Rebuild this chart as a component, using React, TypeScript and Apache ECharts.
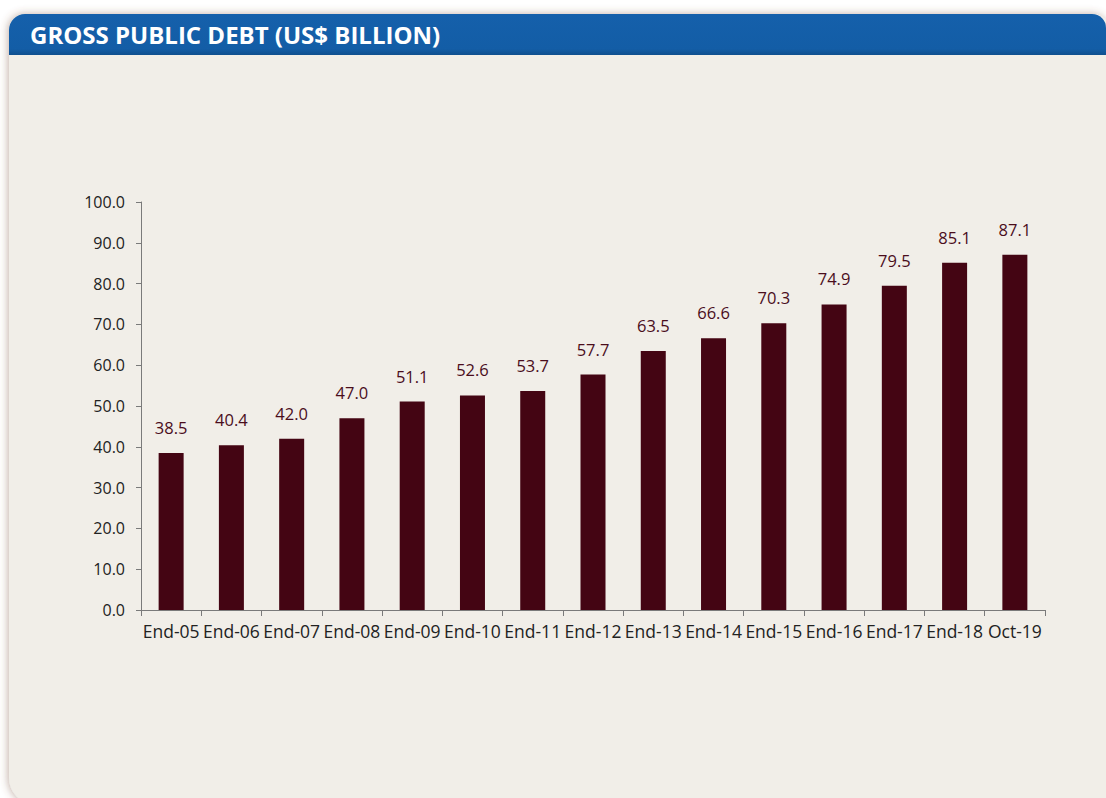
import React, { useEffect, useRef } from "react";
import * as echarts from "echarts";

const categories = ["End-05", "End-06", "End-07", "End-08", "End-09", "End-10", "End-11", "End-12", "End-13", "End-14", "End-15", "End-16", "End-17", "End-18", "Oct-19"];
const debtValues = [38.5, 40.4, 42.0, 47.0, 51.1, 52.6, 53.7, 57.7, 63.5, 66.6, 70.3, 74.9, 79.5, 85.1, 87.1];
const titleText = "GROSS PUBLIC DEBT (US$ BILLION)";

export default function App() {
  const ref = useRef<HTMLDivElement>(null);
  useEffect(() => {
    const chart = echarts.init(ref.current!, null, { renderer: "svg" });
    const font = "'Open Sans', 'Noto Sans', sans-serif";
    chart.setOption({
      animation: false,
      backgroundColor: "#ffffff",
      graphic: [
        {
          type: "rect",
          z: -10,
          silent: true,
          shape: { x: 9, y: 14, width: 1100, height: 790, r: [16, 16, 0, 26] },
          style: { fill: "#F1EEE8", shadowBlur: 8, shadowColor: "rgba(120,80,60,0.45)", shadowOffsetX: -1, shadowOffsetY: 0 },
        },
        {
          type: "rect",
          z: -9,
          silent: true,
          shape: { x: 9, y: 14, width: 1097, height: 41, r: [16, 14, 0, 0] },
          style: {
            fill: new echarts.graphic.LinearGradient(0, 0, 0, 1, [
              { offset: 0, color: "#1560AB" },
              { offset: 0.85, color: "#135DA6" },
              { offset: 1, color: "#0F4F8E" },
            ]),
          },
        },
        {
          type: "text",
          z: 10,
          left: 30,
          top: 22,
          style: { text: titleText, fill: "#ffffff", font: `bold 24px ${font}` },
        },
      ],
      grid: { left: 141, right: 61, top: 202, bottom: 188, containLabel: false },
      xAxis: {
        type: "category",
        data: categories,
        axisLine: { lineStyle: { color: "#7a7a7a", width: 1 } },
        axisTick: { show: true, alignWithLabel: false, length: 6, lineStyle: { color: "#7a7a7a" } },
        axisLabel: { color: "#222", fontSize: 17.5, fontFamily: font, margin: 12, interval: 0 },
      },
      yAxis: {
        type: "value",
        min: 0,
        max: 100,
        interval: 10,
        splitLine: { show: false },
        axisLine: { show: true, lineStyle: { color: "#7a7a7a", width: 1 } },
        axisTick: { show: true, length: 5, lineStyle: { color: "#7a7a7a" } },
        axisLabel: { color: "#222", fontSize: 16, fontFamily: font, margin: 16, formatter: (v: number) => v.toFixed(1) },
      },
      series: [
        {
          type: "bar",
          data: debtValues,
          barWidth: 25,
          itemStyle: { color: "#440513" },
          label: {
            show: true,
            position: "top",
            distance: 17,
            color: "#4a0d1c",
            fontSize: 16.5,
            fontFamily: font,
            formatter: (p: any) => Number(p.value).toFixed(1),
          },
        },
      ],
    });
    return () => chart.dispose();
  }, []);
  return <div ref={ref} style={{ position: "fixed", left: 0, top: 0, width: 1106, height: 798 }} />;
}
